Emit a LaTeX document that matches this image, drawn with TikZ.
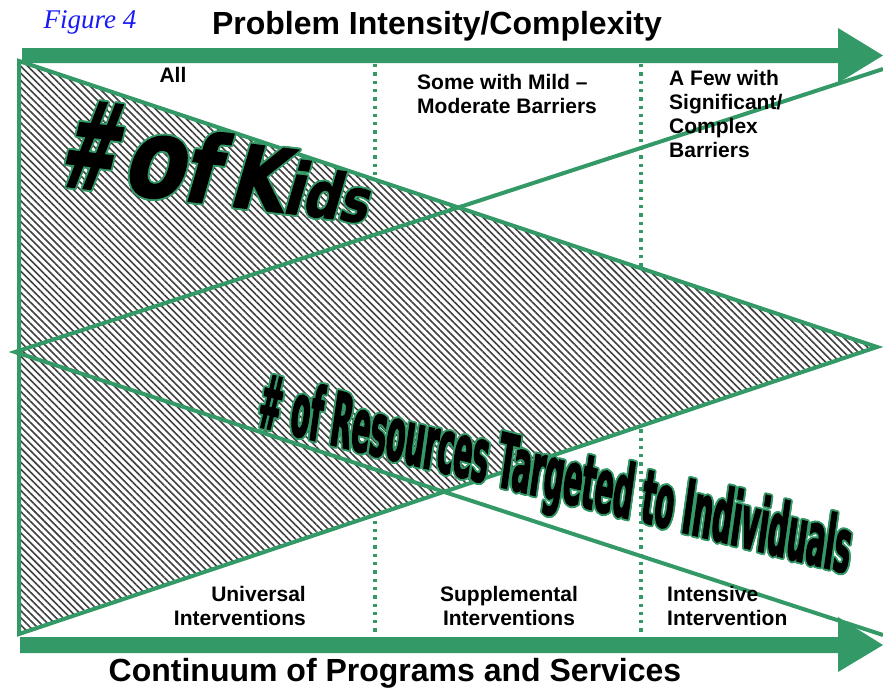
\documentclass[tikz,border=0pt]{standalone}
\usepackage{fontspec}
\usepackage{graphicx}
\setmainfont{Liberation Sans}
\newfontfamily\figfont{Liberation Serif}
\newfontfamily\kidsfont[FakeStretch=0.8,FakeSlant=0.16,FakeBold=1.5]{DejaVu Sans}
\newfontfamily\resfont[FakeStretch=0.37,FakeBold=1.5]{DejaVu Sans}
\usepackage{contour}
\contourlength{1.8pt}
\usetikzlibrary{patterns.meta}
\definecolor{grn}{RGB}{51,153,102}
\definecolor{figblue}{RGB}{25,25,245}
\begin{document}
\begin{tikzpicture}[x=1pt,y=-1pt,
  lbl/.style={font=\fontsize{21}{24}\selectfont\bfseries, inner sep=0pt},
  ttl/.style={font=\fontsize{32}{36}\selectfont\bfseries, inner sep=0pt},
  edge/.style={draw=grn, line width=4pt, line join=miter},
  dots/.style={draw=grn, line width=3.3pt, dash pattern=on 3.3pt off 5pt},
  bigarrow/.style={fill=grn},
  hatch/.style={pattern={Lines[angle=-45,distance=5pt,line width=1.6pt]}, pattern color=black!75}]
\useasboundingbox (0,0) rectangle (883,689);
% dotted separators
\draw[dots] (375,64) -- (375,636);
\draw[dots] (641,64) -- (641,636);
% number of kids triangle
\fill[white] (19,61) -- (877,347) -- (19,634) -- cycle;
\fill[hatch] (19,61) -- (877,347) -- (19,634) -- cycle;
\draw[edge] (19,61) -- (877,347) -- (19,634) -- cycle;
% resources wedge
\draw[edge] (883,69) -- (15,352) -- (883,635);
% big arrows
\fill[bigarrow] (22,48) -- (838,48) -- (838,28) -- (883,55.5) -- (838,83) -- (838,63) -- (22,63) -- cycle;
\fill[bigarrow] (20,637) -- (838,637) -- (838,617) -- (883,645) -- (838,672) -- (838,653) -- (20,653) -- cycle;
% texts
\node[font=\figfont\itshape\fontsize{27}{30}\selectfont, text=figblue, inner sep=0pt] (fig) at (90,22) {Figure 4};
\node[ttl] (title) at (437,26) {Problem Intensity/Complexity};
\node[ttl] (cont) at (395,673) {Continuum of Programs and Services};
\node[lbl] (all) at (173,75) {All};
\node[lbl, align=left, anchor=west] (mild) at (417,94) {Some with Mild –\\Moderate Barriers};
\node[lbl, align=left, anchor=west] (few) at (669,113.5) {A Few with\\Significant/\\Complex\\Barriers};
\node[lbl, align=right, anchor=east] (univ) at (306,606) {Universal\\Interventions};
\node[lbl, align=center] (supp) at (509,606) {Supplemental\\Interventions};
\node[lbl, align=left, anchor=west] (inten) at (667,606) {Intensive\\Intervention};
\node[rotate=-7, anchor=base, inner sep=0pt] (kids) at (211,204) {\kidsfont\bfseries\contour{grn}{\fontsize{122}{122}\selectfont\scalebox{0.7}[1]{\#}\kern7pt\fontsize{110}{110}\selectfont o\fontsize{95}{95}\selectfont f\kern14pt\fontsize{88}{88}\selectfont K\fontsize{72}{72}\selectfont i\fontsize{64}{64}\selectfont d\fontsize{60}{60}\selectfont s}};
\node[rotate=-8, yslant=-0.105, anchor=base, inner sep=0pt] (res) at (552,500) {\resfont\bfseries\fontsize{75}{75}\selectfont\contour{grn}{\# of Resources Targeted to Individuals}};
\end{tikzpicture}
\end{document}
